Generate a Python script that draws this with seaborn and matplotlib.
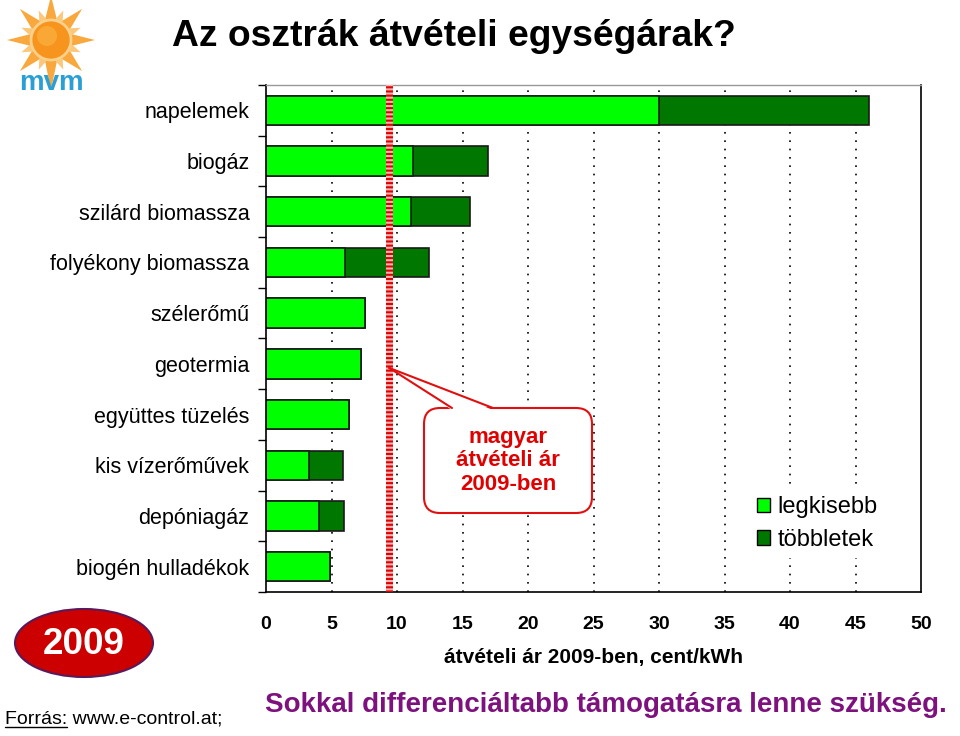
import numpy as np
import pandas as pd
import matplotlib
matplotlib.use('Agg')
import matplotlib.pyplot as plt
import seaborn as sns
from matplotlib.patches import Patch, Ellipse, Circle, Polygon, FancyBboxPatch
from matplotlib.lines import Line2D

# ---- data (cent/kWh, 2009) ----
kategoriak = ['napelemek', 'biogáz', 'szilárd biomassza', 'folyékony biomassza',
              'szélerőmű', 'geotermia', 'együttes tüzelés', 'kis vízerőművek',
              'depóniagáz', 'biogén hulladékok']
legkisebb = [30.0, 11.25, 11.1, 6.0, 7.55, 7.25, 6.3, 3.3, 4.05, 4.9]
tobbletek = [16.0, 5.7, 4.5, 6.45, 0.0, 0.0, 0.0, 2.6, 1.9, 0.0]
magyar_ar = 9.4
x_ticks = list(range(0, 55, 5))

VILAGOS = '#00ff00'
SOTET = '#007800'

df = pd.DataFrame({'kategoria': kategoriak,
                   'legkisebb': legkisebb,
                   'tobbletek': tobbletek})
df['osszes'] = df['legkisebb'] + df['tobbletek']

sns.set_theme(style='white')
plt.rcParams['font.family'] = ['Liberation Sans', 'DejaVu Sans']
plt.rcParams['text.color'] = 'black'
plt.rcParams['axes.labelcolor'] = 'black'
plt.rcParams['xtick.color'] = 'black'
plt.rcParams['ytick.color'] = 'black'

W, H = 960, 736
fig = plt.figure(figsize=(9.6, 7.36), dpi=100)
ax = fig.add_axes([266 / W, 1 - 592 / H, 655 / W, 507 / H])

# dotted vertical grid under the bars
ax.set_axisbelow(True)
for xv in x_ticks[1:-1]:
    ax.axvline(xv, color='black', lw=1.2, ls=(0, (1, 4)), zorder=0)

# stacked bars: total (dark) first, minimum (light) on top
sns.barplot(data=df, y='kategoria', x='osszes', orient='h', color=SOTET,
            saturation=1, edgecolor='#1a1a1a', linewidth=1.2, width=0.58, ax=ax)
sns.barplot(data=df, y='kategoria', x='legkisebb', orient='h', color=VILAGOS,
            saturation=1, edgecolor='#1a1a1a', linewidth=1.2, width=0.58, ax=ax)

# Hungarian feed-in price line
ax.axvline(magyar_ar, color='#f6b6b6', lw=5, zorder=5)
ax.axvline(magyar_ar, color='#e00000', lw=5, ls=(0, (0.3, 0.3)), zorder=6)

ax.set_xlim(0, 50)
ax.set_ylim(len(kategoriak) - 0.5, -0.5)
ax.set_xticks(x_ticks)
ax.set_xticklabels([str(v) for v in x_ticks], fontsize=14, fontweight='bold')
ax.tick_params(axis='x', direction='out', length=4, width=1, pad=13, colors='black')
ax.set_yticks(range(len(kategoriak)))
ax.set_yticklabels(kategoriak, fontsize=15.5, color='black')
ax.set_yticks(np.arange(-0.5, len(kategoriak), 1.0), minor=True)
ax.tick_params(axis='y', which='major', length=0, pad=12)
ax.tick_params(axis='y', which='minor', direction='out', length=6, width=1, color='black', left=True)
ax.set_ylabel('')
ax.set_xlabel('átvételi ár 2009-ben, cent/kWh', fontsize=15, fontweight='bold', color='black')
ax.xaxis.set_label_coords(0.5, -(657 - 592) / 507)
ax.xaxis.label.set_va('center')

for side in ['left', 'bottom', 'right']:
    ax.spines[side].set_color('black')
    ax.spines[side].set_linewidth(1.2)
ax.spines['top'].set_color('#999999')
ax.spines['top'].set_linewidth(1)

leg = ax.legend(handles=[Patch(facecolor=VILAGOS, edgecolor='black', label='legkisebb'),
                         Patch(facecolor=SOTET, edgecolor='black', label='többletek')],
                loc='center left', bbox_to_anchor=(0.721, 0.135), frameon=True,
                facecolor='white', edgecolor='none', framealpha=1, fancybox=False,
                fontsize=17, handlelength=0.55, handleheight=0.55, handletextpad=0.3,
                labelspacing=0.45, labelcolor='black', borderpad=0.3)
leg.set_zorder(7)

# ---- overlay in pixel coordinates for the slide decorations ----
ov = fig.add_axes([0, 0, 1, 1], zorder=10)
ov.set_xlim(0, W)
ov.set_ylim(H, 0)
ov.axis('off')
ov.patch.set_visible(False)

# title
ov.text(172, 46, 'Az osztrák átvételi egységárak?', fontsize=26.8,
        fontweight='bold', color='black', ha='left', va='baseline')

# callout pointing to the Hungarian price line
tx, ty = ax.transData.transform((magyar_ar, 5.08))
tip = (tx, H - ty)
box = FancyBboxPatch((424, 408), 168, 105, boxstyle='round,pad=0,rounding_size=16',
                     facecolor='white', edgecolor='#e01010', lw=1.5)
ov.add_patch(box)
ov.add_patch(Polygon([tip, (452, 410), (493, 410)], closed=True,
                     facecolor='white', edgecolor='none'))
ov.add_line(Line2D([tip[0], 452], [tip[1], 408], color='#e01010', lw=1.5))
ov.add_line(Line2D([tip[0], 493], [tip[1], 408], color='#e01010', lw=1.5))
ov.text(508, 461, 'magyar\nátvételi ár\n2009-ben', fontsize=16, fontweight='bold',
        color='#e00000', ha='center', va='center', linespacing=1.15)

# 2009 badge
ov.add_patch(Ellipse((84, 643), 138, 68, facecolor='#cc0000', edgecolor='#5a1a5a', lw=1.5))
ov.text(84, 645, '2009', fontsize=26.5, fontweight='bold', color='white',
        ha='center', va='center')

# source line with underlined "Forrás:"
ov.text(5, 724, 'Forrás: www.e-control.at;', fontsize=14, color='black',
        ha='left', va='baseline')
tmp = ov.text(5, 724, 'Forrás:', fontsize=14, color='none', ha='left', va='baseline')
fig.canvas.draw()
bb = tmp.get_window_extent(renderer=fig.canvas.get_renderer())
tmp.remove()
ov.add_line(Line2D([5, 5 + bb.width], [727, 727], color='black', lw=1))

# conclusion line
ov.text(265, 712, 'Sokkal differenciáltabb támogatásra lenne szükség.', fontsize=20,
        fontweight='bold', color='#7d117d', ha='left', va='baseline')

# mvm logo
cx, cy = 51, 40
for k in range(8):
    ang = np.deg2rad(90 + 45 * k)
    L = 50 if k == 4 else 44
    p_tip = (cx + L * np.cos(ang), cy - L * np.sin(ang))
    perp = ang + np.pi / 2
    b1 = (cx + 16 * np.cos(ang) + 7 * np.cos(perp), cy - 16 * np.sin(ang) - 7 * np.sin(perp))
    b2 = (cx + 16 * np.cos(ang) - 7 * np.cos(perp), cy - 16 * np.sin(ang) + 7 * np.sin(perp))
    ov.add_patch(Polygon([p_tip, b1, b2], closed=True, facecolor='#f8a83c', edgecolor='none'))
for k in range(8):
    ang = np.deg2rad(90 + 22.5 + 45 * k)
    p_tip = (cx + 32 * np.cos(ang), cy - 32 * np.sin(ang))
    perp = ang + np.pi / 2
    b1 = (cx + 15 * np.cos(ang) + 6 * np.cos(perp), cy - 15 * np.sin(ang) - 6 * np.sin(perp))
    b2 = (cx + 15 * np.cos(ang) - 6 * np.cos(perp), cy - 15 * np.sin(ang) + 6 * np.sin(perp))
    ov.add_patch(Polygon([p_tip, b1, b2], closed=True, facecolor='#fbc77a', edgecolor='none'))
ov.add_patch(Circle((cx, cy), 20, facecolor='#f7941d', edgecolor='#fbd08a', lw=2))
ov.add_patch(Circle((cx - 4, cy - 4), 10, facecolor='#fbb040', edgecolor='none', alpha=0.7))
ov.text(51, 90, 'mvm', fontsize=20, fontweight='bold', color='#2a9fd6',
        ha='center', va='baseline')

fig.savefig('out.png', dpi=100)
